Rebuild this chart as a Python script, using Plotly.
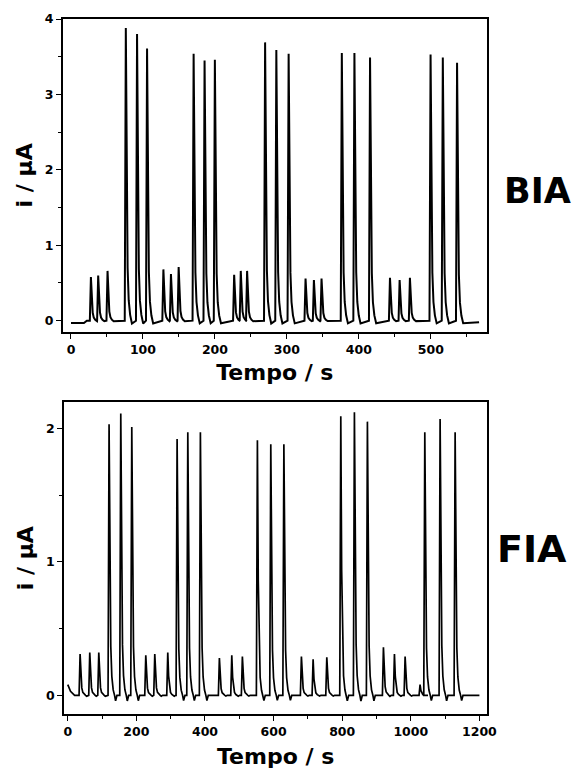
import plotly.graph_objects as go

# ---------------- data ----------------
# BIA: peak times (s) and peak currents (uA)
bia_peak_t = [27.7, 37.8, 50.8, 76.2, 91.8, 105.7, 128.4, 138.9, 149.6,
              170.4, 185.6, 199.9, 226.7, 235.9, 244.7, 269.7, 285.3, 302.4,
              325.9, 337.5, 348.1, 376.3, 393.8, 415.5, 443.2, 456.6, 470.9,
              499.6, 516.6, 536.4]
bia_peak_i = [0.58, 0.60, 0.66, 3.88, 3.80, 3.61, 0.68, 0.62, 0.71,
              3.54, 3.45, 3.46, 0.61, 0.66, 0.66, 3.69, 3.59, 3.54,
              0.56, 0.54, 0.56, 3.55, 3.55, 3.49, 0.57, 0.54, 0.57,
              3.53, 3.49, 3.42]
bia_start = [(0, -0.03), (18, -0.03), (22, 0.0)]
bia_end = (567, -0.02)
# decay profile of one BIA peak (seconds after apex, fraction of height)
bia_prof_dt = [-1.5, 0.0, 1.2, 2.5, 4.0, 6.0, 8.5]
bia_prof_fr = [0.0, 1.0, 0.45, 0.18, 0.07, 0.02, -0.01]

# FIA: peak times (s) and peak currents (uA)
fia_peak_t = [35.9, 64.1, 90.4, 120.4, 154.5, 186.6, 227.4, 253.6, 291.5,
              318.7, 349.9, 386.6, 442.0, 478.1, 509.0, 552.8, 591.8, 630.0,
              681.1, 715.2, 755.1, 795.9, 835.6, 873.5, 920.2, 952.3, 983.4,
              1027.0, 1040.8, 1085.4, 1129.2]
fia_peak_i = [0.31, 0.32, 0.32, 2.03, 2.11, 2.01, 0.30, 0.31, 0.32,
              1.92, 1.97, 1.97, 0.28, 0.30, 0.29, 1.91, 1.88, 1.88,
              0.29, 0.27, 0.285, 2.09, 2.12, 2.05, 0.36, 0.31, 0.29,
              0.08, 1.97, 2.07, 1.97]
fia_start = [(0, 0.08), (8, 0.03), (20, 0.0)]
fia_end = (1200, 0.0)
fia_prof_dt = [-3.0, 0.0, 2.5, 5.0, 8.0, 12.0, 16.0, 19.0, 23.0]
fia_prof_fr = [0.0, 1.0, 0.45, 0.18, 0.07, 0.02, 0.0, -0.02, 0.0]

bia_xticks = [0, 100, 200, 300, 400, 500]
bia_yticks = [0, 1, 2, 3, 4]
fia_xticks = [0, 200, 400, 600, 800, 1000, 1200]
fia_yticks = [0, 1, 2]


def build(start, peaks_t, peaks_i, prof_dt, prof_fr, end):
    xs = [p[0] for p in start]
    ys = [p[1] for p in start]
    for t, h in zip(peaks_t, peaks_i):
        for dt, fr in zip(prof_dt, prof_fr):
            xs.append(t + dt)
            ys.append(h * fr)
    xs.append(end[0])
    ys.append(end[1])
    return xs, ys


bx, by = build(bia_start, bia_peak_t, bia_peak_i, bia_prof_dt, bia_prof_fr, bia_end)
fx, fy = build(fia_start, fia_peak_t, fia_peak_i, fia_prof_dt, fia_prof_fr, fia_end)

FONT = "DejaVu Sans"
fig = go.Figure()
fig.add_trace(go.Scatter(x=bx, y=by, mode="lines", line=dict(color="black", width=2),
                         xaxis="x", yaxis="y", showlegend=False))
fig.add_trace(go.Scatter(x=fx, y=fy, mode="lines", line=dict(color="black", width=1.7),
                         xaxis="x2", yaxis="y2", showlegend=False))

W, H = 572, 772
common = dict(showline=True, linecolor="black", linewidth=1.6, mirror=True,
              ticks="outside", ticklen=5, tickwidth=1.4, tickcolor="black",
              showgrid=False, zeroline=False, automargin=False,
              tickfont=dict(family=FONT, size=12.5, color="black", weight="bold"))
title_font = dict(family=FONT, size=22, color="black", weight="bold")

fig.update_layout(
    width=W, height=H, margin=dict(l=0, r=0, t=0, b=0, autoexpand=False),
    paper_bgcolor="white", plot_bgcolor="white",
    xaxis=dict(domain=[62.7 / W, 487 / W], anchor="y", range=[-11.5, 578],
               tickvals=bia_xticks,
               minor=dict(ticks="outside", ticklen=3, tickcolor="black", dtick=50, tick0=0),
               title=dict(text="Tempo / s", font=title_font, standoff=9), **common),
    yaxis=dict(domain=[1 - 331.7 / H, 1 - 19 / H], anchor="x", range=[-0.146, 4.0],
               tickvals=bia_yticks,
               minor=dict(ticks="outside", ticklen=3, tickcolor="black", dtick=0.5, tick0=0),
               title=dict(text="i / µA", font=title_font, standoff=6), **common),
    xaxis2=dict(domain=[64 / W, 487.3 / W], anchor="y2", range=[-11, 1223],
                tickvals=fia_xticks,
                minor=dict(ticks="outside", ticklen=3, tickcolor="black", dtick=100, tick0=0),
                title=dict(text="Tempo / s", font=title_font, standoff=11), **common),
    yaxis2=dict(domain=[1 - 714.3 / H, 1 - 402 / H], anchor="x2", range=[-0.142, 2.197],
                tickvals=fia_yticks,
                minor=dict(ticks="outside", ticklen=3, tickcolor="black", dtick=0.5, tick0=0),
                title=dict(text="i / µA", font=title_font, standoff=6), **common),
    annotations=[
        dict(text="BIA", x=502 / W, y=1 - 191 / H, xref="paper", yref="paper",
             xanchor="left", yanchor="middle", showarrow=False,
             font=dict(family=FONT, size=35, color="black", weight="bold")),
        dict(text="FIA", x=495 / W, y=1 - 549 / H, xref="paper", yref="paper",
             xanchor="left", yanchor="middle", showarrow=False,
             font=dict(family=FONT, size=38, color="black", weight="bold")),
    ],
)

fig.write_html("out.html", config={"displayModeBar": False},
               post_script="document.body.style.margin='0';document.body.style.overflow='hidden';")
